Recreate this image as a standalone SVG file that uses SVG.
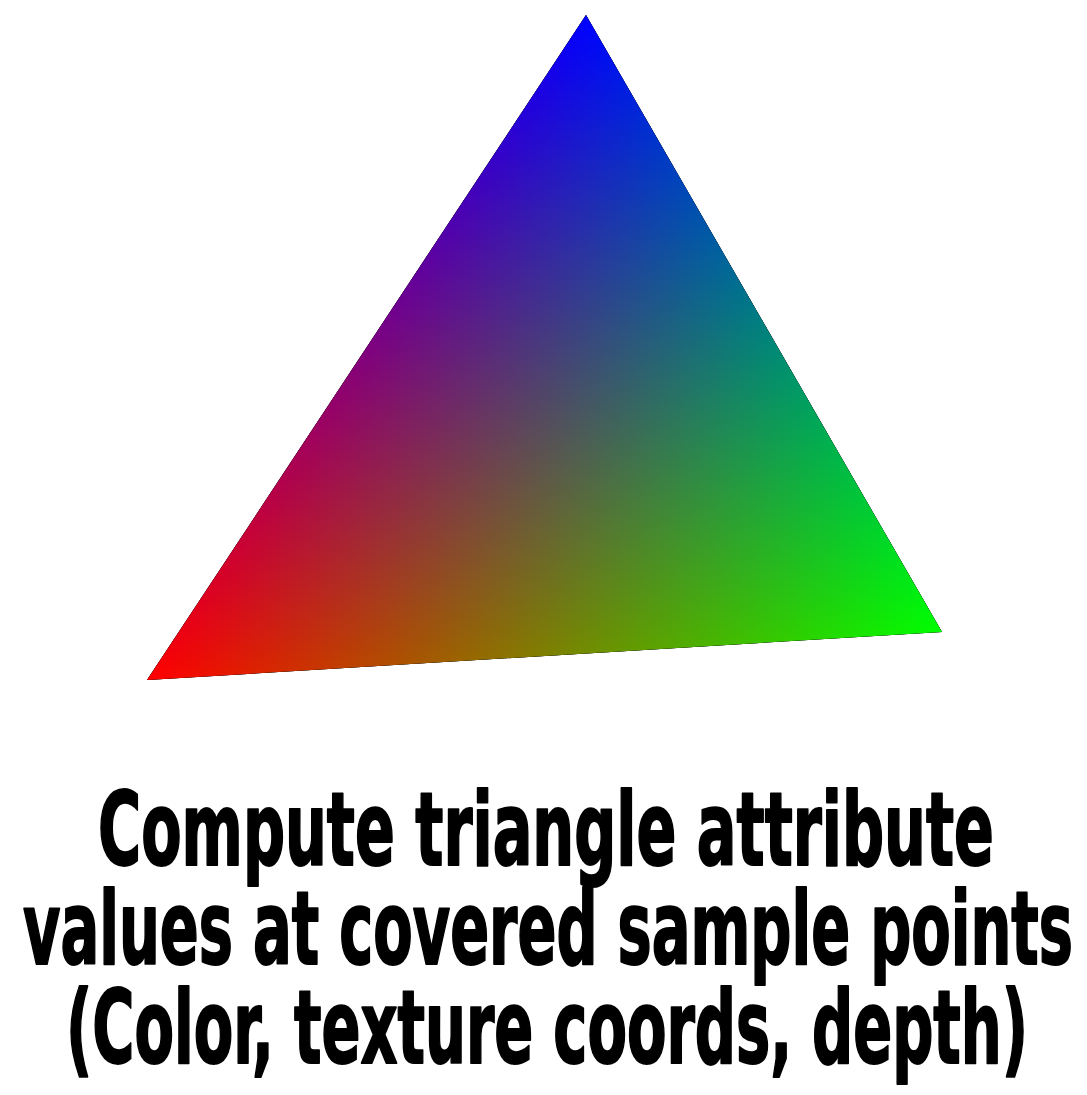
<svg xmlns="http://www.w3.org/2000/svg" width="1087" height="1095" viewBox="0 0 1087 1095">
  <style>
    .cap { font-family: "Liberation Sans Narrow", "DejaVu Sans Condensed", "Liberation Sans", sans-serif; font-weight: bold; font-size: 102px; fill: #000; stroke: #000; stroke-width: 2; stroke-linejoin: round; text-anchor: middle; }
    .scr { mix-blend-mode: screen; }
  </style>
  <defs>
    <linearGradient id="gR" gradientUnits="userSpaceOnUse" x1="147" y1="680" x2="763.5" y2="324.3">
      <stop offset="0" stop-color="#ff0000"/>
      <stop offset="1" stop-color="#000000"/>
    </linearGradient>
    <linearGradient id="gG" gradientUnits="userSpaceOnUse" x1="942" y1="632" x2="409.3" y2="281.8">
      <stop offset="0" stop-color="#00ff00"/>
      <stop offset="1" stop-color="#000000"/>
    </linearGradient>
    <linearGradient id="gB" gradientUnits="userSpaceOnUse" x1="586" y1="15" x2="623.5" y2="651.2">
      <stop offset="0" stop-color="#0000ff"/>
      <stop offset="1" stop-color="#000000"/>
    </linearGradient>
  </defs>
  <rect width="1087" height="1095" fill="#ffffff"/>
  <g id="triangle" style="isolation:isolate">
    <polygon points="586,15 147,680 942,632" fill="url(#gR)"/>
    <polygon class="scr" points="586,15 147,680 942,632" fill="url(#gG)"/>
    <polygon class="scr" points="586,15 147,680 942,632" fill="url(#gB)"/>
  </g>
  <g id="caption">
    <text class="cap" x="546" y="865" textLength="896" lengthAdjust="spacingAndGlyphs">Compute triangle attribute</text>
    <text class="cap" x="548" y="964" textLength="1050" lengthAdjust="spacingAndGlyphs">values at covered sample points</text>
    <text class="cap" x="547" y="1063" textLength="962" lengthAdjust="spacingAndGlyphs">(Color, texture coords, depth)</text>
  </g>
</svg>
